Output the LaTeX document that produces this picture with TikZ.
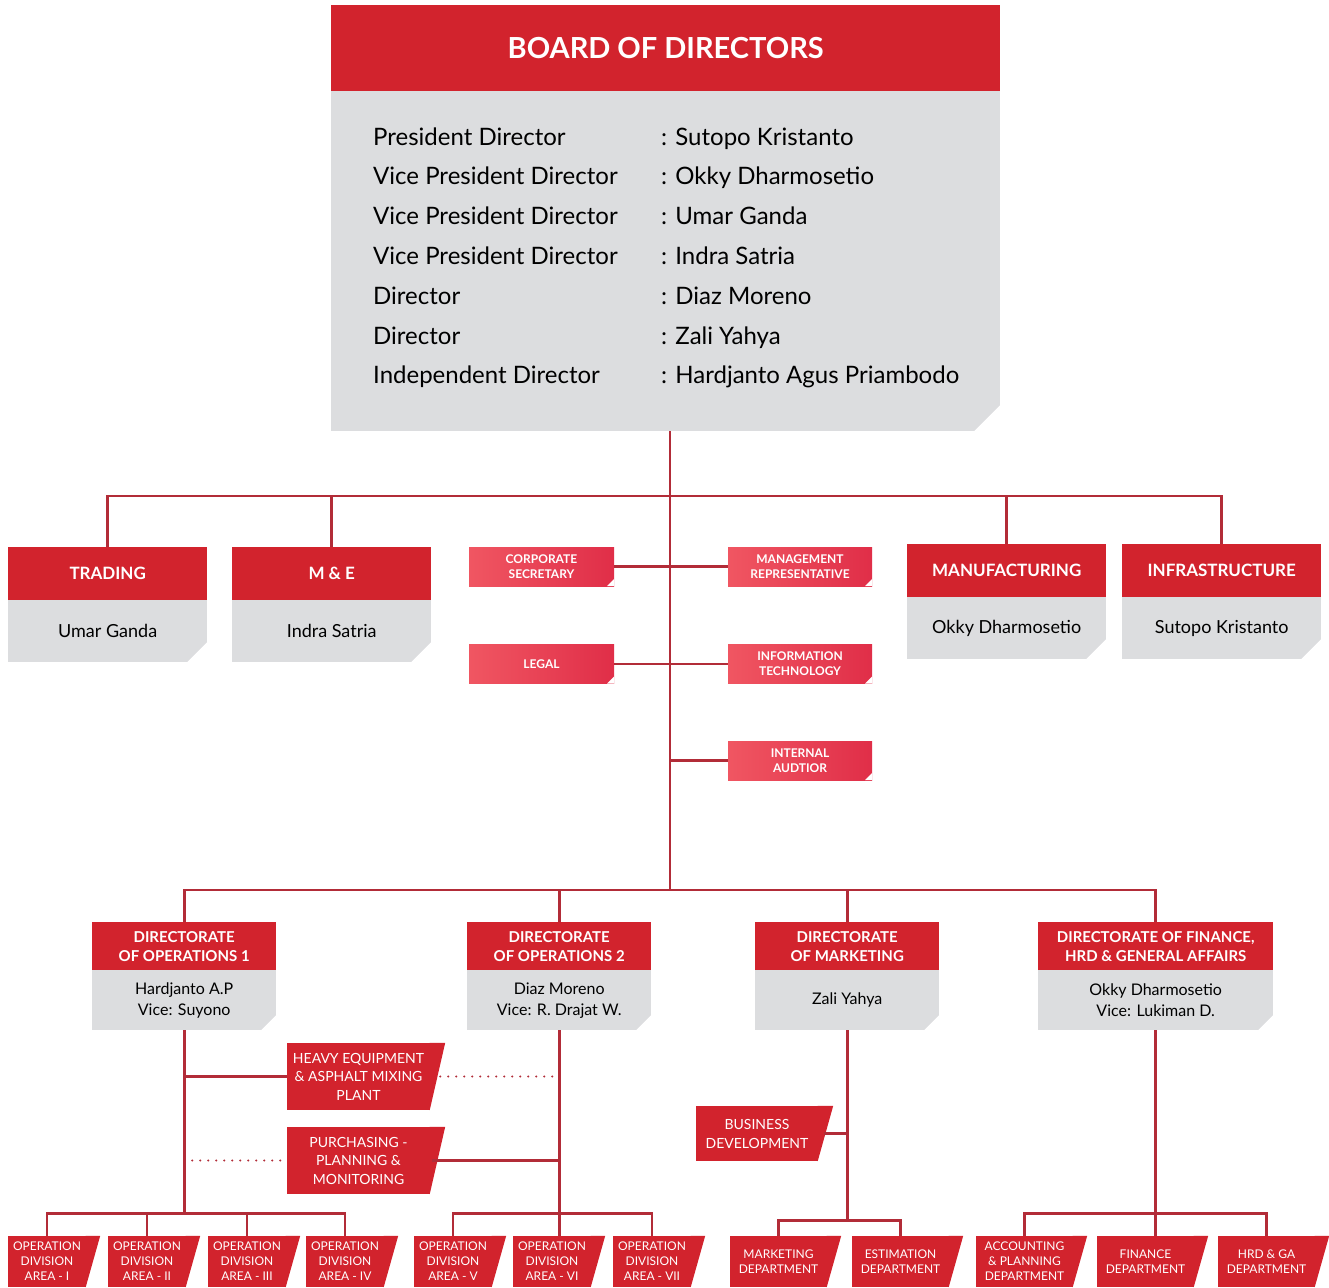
\documentclass[tikz,border=0pt]{standalone}
\usepackage{fontspec}
\setmainfont{Lato}
\definecolor{bodred}{RGB}{210,35,45}
\definecolor{bodgrey}{RGB}{220,221,223}
\definecolor{linkred}{RGB}{178,44,56}
\definecolor{tagleft}{RGB}{240,86,98}
\definecolor{tagright}{RGB}{224,46,72}
\newcommand{\pxfont}[2]{\fontsize{#1}{#2}\selectfont}

\begin{document}
\begin{tikzpicture}[
    x=1pt, y=-1pt,
    hdr/.style={rectangle, fill=bodred, text=white, inner sep=0, anchor=north west, align=center},
    body/.style={rectangle, fill=bodgrey, inner sep=0, anchor=north west, align=center,
        path picture={\fill[white] (path picture bounding box.south east) -- ++(-#1pt,0pt) -- ++(#1pt,#1pt) -- cycle;}},
    tag/.style={rectangle, left color=tagleft, right color=tagright, text=white, inner sep=0, align=center,
        minimum width=145, minimum height=39, font=\bfseries\pxfont{12}{15},
        path picture={\fill[white] (path picture bounding box.south east) -- ++(-7pt,0pt) -- ++(7pt,7pt) -- cycle;}},
    slant/.style={rectangle, fill=bodred, text=white, inner sep=0, align=center},
    leaf/.style={slant, minimum width=78, minimum height=51, font=\pxfont{12}{15}},
    member/.style={anchor=base west, inner sep=0, font=\pxfont{24}{28}},
    conn/.style={draw=linkred, line width=2.8pt},
    dotlink/.style={draw=linkred, line width=2.2pt, line cap=round, dash pattern=on 0pt off 8pt}
]
\fill[white] (0,0) rectangle (1329,1287);
\useasboundingbox (0,0) rectangle (1329,1287);

% Board of directors
\node[hdr, minimum width=669, minimum height=86, font=\bfseries\pxfont{29}{33}] (board) at (331,5) {BOARD OF DIRECTORS};
\node[body=26, minimum width=669, minimum height=340] (board-body) at (331,91) {};
\foreach \role/\who [count=\i] in {President Director/Sutopo Kristanto,
    Vice President Director/Okky Dharmosetio, Vice President Director/Umar Ganda,
    Vice President Director/Indra Satria, Director/Diaz Moreno, Director/Zali Yahya,
    Independent Director/Hardjanto Agus Priambodo} {
  \node[member] (role-\i) at (373,105.2+39.8*\i) {\role};
  \node[member] (who-\i) at (661,105.2+39.8*\i) {: \who};
}

\coordinate (bus1) at (670,496);
\coordinate (bus2) at (670,890);

% Business units
\node[hdr, minimum width=199, minimum height=53, font=\bfseries\pxfont{17}{20}] (trading) at (8,547) {TRADING};
\node[body=20, minimum width=199, minimum height=62, font=\pxfont{18}{22}] (trading-body) at (8,600) {Umar Ganda};
\node[hdr, minimum width=199, minimum height=53, font=\bfseries\pxfont{17}{20}] (me) at (232,547) {M \& E};
\node[body=20, minimum width=199, minimum height=62, font=\pxfont{18}{22}] (me-body) at (232,600) {Indra Satria};
\node[hdr, minimum width=199, minimum height=53, font=\bfseries\pxfont{17}{20}] (manuf) at (907,544) {MANUFACTURING};
\node[body=20, minimum width=199, minimum height=62, font=\pxfont{18}{22}] (manuf-body) at (907,597) {Okky Dharmosetio};
\node[hdr, minimum width=199, minimum height=53, font=\bfseries\pxfont{17}{20}] (infra) at (1122,544) {INFRASTRUCTURE};
\node[body=20, minimum width=199, minimum height=62, font=\pxfont{18}{22}] (infra-body) at (1122,597) {Sutopo Kristanto};

% Staff units
\node[tag] (corpsec) at (541.5,566.5) {CORPORATE\\SECRETARY};
\node[tag, minimum width=144] (mgmtrep) at (800,566.5) {MANAGEMENT\\REPRESENTATIVE};
\node[tag] (legal) at (541.5,664) {LEGAL};
\node[tag, minimum width=144] (infotech) at (800,664) {INFORMATION\\TECHNOLOGY};
\node[tag, minimum width=144] (audit) at (800,760.5) {INTERNAL\\AUDTIOR};

% Directorates
\node[hdr, minimum width=184, minimum height=48, font=\bfseries\pxfont{15}{19}] (ops1) at (92,922) {DIRECTORATE\\OF OPERATIONS 1};
\node[body=15, minimum width=184, minimum height=60, font=\pxfont{16}{21}] (ops1-body) at (92,970) {Hardjanto A.P\\Vice: Suyono};
\node[hdr, minimum width=184, minimum height=48, font=\bfseries\pxfont{15}{19}] (ops2) at (467,922) {DIRECTORATE\\OF OPERATIONS 2};
\node[body=15, minimum width=184, minimum height=60, font=\pxfont{16}{21}] (ops2-body) at (467,970) {Diaz Moreno\\Vice: R. Drajat W.};
\node[hdr, minimum width=184, minimum height=48, font=\bfseries\pxfont{15}{19}] (mktg) at (755,922) {DIRECTORATE\\OF MARKETING};
\node[body=15, minimum width=184, minimum height=60, font=\pxfont{16}{21}] (mktg-body) at (755,970) {Zali Yahya};
\node[hdr, minimum width=235, minimum height=48, font=\bfseries\pxfont{15}{19}] (finance) at (1038,922) {DIRECTORATE OF FINANCE,\\HRD \& GENERAL AFFAIRS};
\node[body=15, minimum width=235, minimum height=60, font=\pxfont{16}{21}] (finance-body) at (1038,970) {Okky Dharmosetio\\Vice: Lukiman D.};

% Support units
\node[slant, minimum width=143, minimum height=67, font=\pxfont{14}{18.5}] (heavy) at (358.5,1076.5) {HEAVY EQUIPMENT\\\& ASPHALT MIXING\\PLANT};
\node[slant, minimum width=143, minimum height=67, font=\pxfont{14}{18.5}] (purch) at (358.5,1160.5) {PURCHASING -\\PLANNING \&\\MONITORING};
\node[slant, minimum width=122, minimum height=55, font=\pxfont{14}{19}] (bizdev) at (757,1133.5) {BUSINESS\\DEVELOPMENT};

% Operation areas and departments
\foreach \x/\area [count=\i] in {47/I, 147/II, 247/III, 345/IV, 453/V, 552/VI, 652/VII}
  \node[leaf] (area-\i) at (\x,1261.5) {OPERATION\\DIVISION\\AREA - \area};
\node[leaf, minimum width=97] (mkt-dept) at (778.5,1261.5) {MARKETING\\DEPARTMENT};
\node[leaf, minimum width=97] (est-dept) at (900.5,1261.5) {ESTIMATION\\DEPARTMENT};
\node[leaf, minimum width=97] (acct-dept) at (1024.5,1261.5) {ACCOUNTING\\\& PLANNING\\DEPARTMENT};
\node[leaf, minimum width=97] (fin-dept) at (1145.5,1261.5) {FINANCE\\DEPARTMENT};
\node[leaf, minimum width=97] (hrd-dept) at (1266.5,1261.5) {HRD \& GA\\DEPARTMENT};

% slanted right edges
\foreach \n/\s in {heavy/15, purch/15, bizdev/15, area-1/14, area-2/14, area-3/14, area-4/14,
    area-5/14, area-6/14, area-7/14, mkt-dept/14, est-dept/14, acct-dept/14, fin-dept/14, hrd-dept/14}
  \fill[bodred] ([xshift=-0.5pt]\n.north east) -- ++(\s pt+0.5pt,0pt) -- ([xshift=-0.5pt]\n.south east) -- cycle;

% Upper connectors
\draw[conn] (board-body.south -| bus1) -- (bus2);
\draw[conn] (trading.north) |- (bus1) -| (infra.north);
\draw[conn] (me.north) |- (bus1);
\draw[conn] (manuf.north) |- (bus1);
\draw[conn] (corpsec.east) -- (mgmtrep.west);
\draw[conn] (legal.east) -- (infotech.west);
\draw[conn] (audit.west -| bus1) -- (audit.west);
\draw[conn] (ops1.north) |- (bus2) -| (finance.north);
\draw[conn] (ops2.north) |- (bus2);
\draw[conn] (mktg.north) |- (bus2);

% Operations 1
\draw[conn] (ops1-body.south) -- ++(0,183) coordinate (ops1-bus);
\draw[conn] (area-1.north) |- (ops1-bus) -| (area-4.north);
\draw[conn] (area-2.north) |- (ops1-bus);
\draw[conn] (area-3.north) |- (ops1-bus);
\draw[conn] (ops1-body.south |- heavy.west) -- (heavy.west);
\draw[dotlink] ([xshift=10pt]heavy.east) -- (heavy.east -| ops2-body.south);
\draw[dotlink] (ops1-body.south |- purch.west) -- ([xshift=-6pt]purch.west);
\draw[conn] ([xshift=2pt]purch.east) -- (purch.east -| ops2-body.south);

% Operations 2
\draw[conn] (ops2-body.south) -- ++(0,183) coordinate (ops2-bus);
\draw[conn] (area-5.north) |- (ops2-bus) -| (area-7.north);
\draw[conn] (ops2-bus) -- (ops2-bus |- area-6.north);

% Marketing
\draw[conn] (mktg-body.south) -- ++(0,190) coordinate (mktg-bus);
\draw[conn] ([xshift=6pt]bizdev.east) -- (bizdev.east -| mktg-body.south);
\draw[conn] (mkt-dept.north) |- (mktg-bus) -| (est-dept.north);

% Finance
\draw[conn] (finance-body.south) -- ++(0,183) coordinate (fin-bus);
\draw[conn] (acct-dept.north) |- (fin-bus) -| (hrd-dept.north);
\draw[conn] (fin-bus) -- (fin-bus |- fin-dept.north);

\end{tikzpicture}
\end{document}
